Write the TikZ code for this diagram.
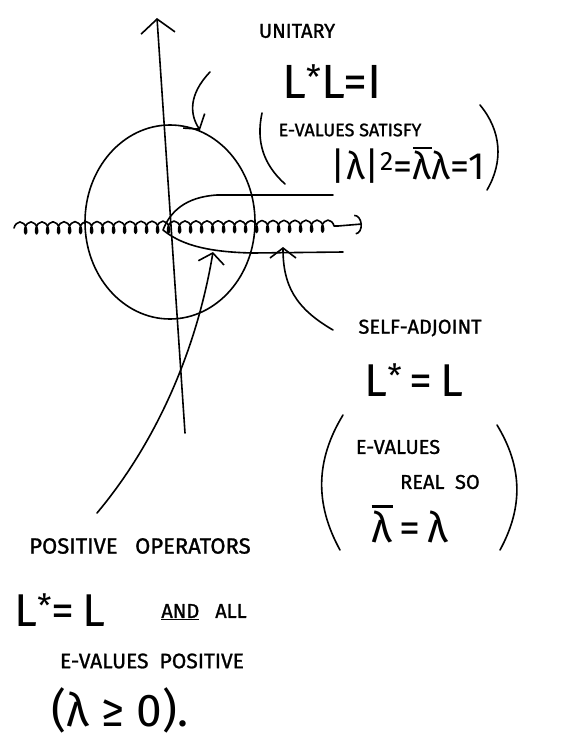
\documentclass[tikz,border=0pt]{standalone}
\usepackage{fontspec}
\setmainfont{Fira Sans}
\newfontfamily\penfont{Fira Sans}[FakeBold=1.2]
\usetikzlibrary{arrows.meta,decorations.pathmorphing}
\newcommand{\barlam}{\ooalign{\hfil\rule[0.8em]{0.5em}{0.07em}\hfil\cr λ\cr}}

\begin{document}
\begin{tikzpicture}[
  x=1pt, y=1pt,
  line width=1.6pt, line cap=round, line join=round,
  pen/.style={font=\penfont\fontsize{20}{24}\selectfont, inner sep=1pt},
  big/.style={font=\fontsize{46}{50}\selectfont, inner sep=1pt},
  tip/.style={-{Straight Barb[length=10pt,width=26pt,line width=1.6pt]}},
  axtip/.style={-{Straight Barb[length=14pt,width=34pt,line width=1.6pt]}},
  wave/.style={decorate, decoration={coil, aspect=0.55, segment length=11pt, amplitude=6pt}},
]
  \useasboundingbox (0,0) rectangle (571,-740);

  % Axes
  \coordinate (ybot) at (185,-433);
  \coordinate (ytop) at (157,-18);
  \draw[axtip] (ybot) -- (ytop);
  \coordinate (xl) at (14,-228);
  \coordinate (xe) at (338,-226);
  \coordinate (xr) at (362,-224);
  \draw[wave] (xl) -- (xe);
  \draw[-{Arc Barb[length=7pt,width=20pt,line width=1.6pt]}] (xe) -- (xr);

  % Unit circle
  \draw (170,-222) ellipse [x radius=85, y radius=97];

  % Positive half-line region
  \coordinate (o) at (163,-230);
  \draw (333,-195) -- (217,-195) .. controls (185,-197) and (170,-212) .. (o)
        .. controls (178,-242) and (200,-252) .. (253,-253) -- (343,-252);

  % Unitary
  \node[pen] (unitary) at (297,-31) {UNITARY};
  \node[big, font=\fontsize{48}{52}\selectfont] (uni) at (332,-82) {L\textsuperscript{*}L=I};
  \node[pen, font=\penfont\fontsize{18}{22}\selectfont] (evu) at (350,-130) {E-VALUES SATISFY};
  \node[big, font=\fontsize{38}{42}\selectfont] (evumath) at (408,-165) {|λ|\textsuperscript{2}=\barlam λ=1};
  \draw (262,-113) to[bend right=30] (285,-184);
  \draw (480,-105) to[bend left=35] (487,-190);
  \coordinate (uarr) at (210,-72);
  \coordinate (ctop) at (200,-130);
  \draw[tip] (uarr) .. controls (188,-95) and (190,-115) .. (ctop);

  % Self-adjoint
  \node[pen] (self) at (420,-328) {SELF-ADJOINT};
  \node[big] (sa) at (414,-380) {L\textsuperscript{*}\,=\,L};
  \node[pen] (evs) at (398,-447) {E-VALUES};
  \node[pen] (real) at (440,-482) {REAL\ \ SO};
  \node[big, font=\fontsize{42}{46}\selectfont] (samath) at (410,-524) {\barlam\,=\,λ};
  \draw (343,-415) to[bend right=30] (340,-550);
  \draw (497,-425) to[bend left=30] (500,-550);
  \coordinate (sarr) at (333,-330);
  \coordinate (sahead) at (283,-247);
  \draw[tip] (sarr) .. controls (295,-308) and (283,-285) .. (sahead);

  % Positive operators
  \node[pen, font=\penfont\fontsize{22}{26}\selectfont] (pos) at (140,-546) {POSITIVE\ \ \ OPERATORS};
  \node[big, font=\fontsize{46}{50}\selectfont] (pa) at (60,-610) {L\textsuperscript{*}=\,L};
  \node[pen] (and) at (204,-612) {\underline{AND}\ \ \ ALL};
  \node[pen, font=\penfont\fontsize{21}{25}\selectfont] (evp) at (152,-661) {E-VALUES\ \ POSITIVE};
  \node[big, font=\fontsize{46}{50}\selectfont] (pmath) at (120,-710) {(λ ≥ 0).};
  \coordinate (parr) at (97,-513);
  \coordinate (phead) at (213,-252);
  \draw[tip] (parr) .. controls (150,-450) and (195,-360) .. (phead);
\end{tikzpicture}
\end{document}
